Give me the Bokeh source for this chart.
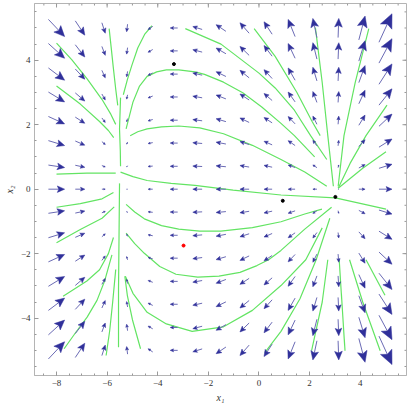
import math
from bokeh.plotting import figure
from bokeh.models import Range1d, LinearAxis, FixedTicker
from bokeh.embed import file_html
from bokeh.resources import INLINE

# ---------------- data ----------------
x_grid = [-8.0, -7.07, -6.14, -5.21, -4.29, -3.36, -2.43, -1.5, -0.57, 0.36, 1.29, 2.21, 3.14, 4.07, 5.0]
y_grid = [5.0, 4.29, 3.57, 2.86, 2.14, 1.43, 0.71, 0.0, -0.71, -1.43, -2.14, -2.86, -3.57, -4.29, -5.0]

# horizontal field component for each column (same on every row)
u_by_column = [28.6, 16.8, 6.0, -1.6, -8.2, -13.2, -16.5, -17.3, -16.2, -14.3, -12.3, -7.2, 1.2, 11.0, 23.0]

# vertical field component, one row per y_grid value (top to bottom), one entry per column
v_field = [
    [-23.8, -19.8, -14.5, -10.5, -4.5, 0.0, 4.0, 9.2, 14.5, 17.2, 23.8, 26.5, 26.5, 33.0, 39.5],
    [-20.4, -17.0, -12.4, -9.0, -3.8, 0.0, 3.4, 7.9, 12.4, 14.8, 20.4, 22.7, 22.7, 28.3, 33.8],
    [-17.0, -14.2, -10.4, -7.5, -3.2, 0.0, 2.9, 6.6, 10.4, 12.3, 17.0, 18.9, 18.9, 23.6, 28.2],
    [-13.6, -11.3, -8.3, -6.0, -2.6, 0.0, 2.3, 5.3, 8.3, 9.8, 13.6, 15.1, 15.1, 18.8, 22.6],
    [-10.2, -8.5, -6.2, -4.5, -1.9, 0.0, 1.7, 4.0, 6.2, 7.4, 10.2, 11.3, 11.3, 14.1, 16.9],
    [-6.8, -5.7, -4.1, -3.0, -1.3, 0.0, 1.1, 2.6, 4.1, 4.9, 6.8, 7.6, 7.6, 9.4, 11.3],
    [-3.4, -2.8, -2.1, -1.5, -0.6, 0.0, 0.6, 1.3, 2.1, 2.5, 3.4, 3.8, 3.8, 4.7, 5.6],
    [0.0, 0.0, 0.0, 0.0, 0.0, 0.0, 0.0, 0.0, 0.0, 0.0, 0.0, 0.0, 0.0, 0.0, 0.0],
    [3.4, 2.8, 2.1, 1.5, 0.6, 0.0, -0.6, -1.3, -2.1, -2.5, -3.4, -3.8, -3.8, -4.7, -5.6],
    [6.8, 5.7, 4.1, 3.0, 1.3, 0.0, -1.1, -2.6, -4.1, -4.9, -6.8, -7.6, -7.6, -9.4, -11.3],
    [10.2, 8.5, 6.2, 4.5, 1.9, 0.0, -1.7, -4.0, -6.2, -7.4, -10.2, -11.3, -11.3, -14.1, -16.9],
    [13.6, 11.3, 8.3, 6.0, 2.6, 0.0, -2.3, -5.3, -8.3, -9.8, -13.6, -15.1, -15.1, -18.8, -22.6],
    [17.0, 14.2, 10.4, 7.5, 3.2, 0.0, -2.9, -6.6, -10.4, -12.3, -17.0, -18.9, -18.9, -23.6, -28.2],
    [20.4, 17.0, 12.4, 9.0, 3.8, 0.0, -3.4, -7.9, -12.4, -14.8, -20.4, -22.7, -22.7, -28.3, -33.8],
    [23.8, 19.8, 14.5, 10.5, 4.5, 0.0, -4.0, -9.2, -14.5, -17.2, -23.8, -26.5, -26.5, -33.0, -39.5],
]

# green stream lines (x, y)
streamlines = [
    [(-8.0, 4.53), (-7.4, 4.02), (-6.79, 3.42), (-6.2, 2.78), (-5.85, 2.32), (-5.66, 2.01)],
    [(-8.0, 3.2), (-7.06, 2.64), (-6.3, 2.1), (-5.95, 1.82), (-5.74, 1.6)],
    [(-5.92, 4.98), (-5.84, 4.4), (-5.76, 3.8), (-5.66, 3.1), (-5.58, 2.6)],
    [(-5.47, 2.84), (-5.51, 1.87), (-5.48, 1.2), (-5.47, 0.71)],
    [(-5.36, 2.93), (-5.2, 3.4), (-5.02, 3.85), (-4.79, 4.38), (-4.52, 4.8), (-4.23, 5.07)],
    [(-5.51, 0.18), (-5.53, -1.5), (-5.55, -3.1), (-5.55, -4.9)],
    [(-8.0, 0.47), (-6.8, 0.5), (-5.66, 0.5)],
    [(-8.0, -0.56), (-7.06, -0.45), (-6.2, -0.3), (-5.75, -0.1)],
    [(-8.0, -1.66), (-7.06, -1.25), (-6.2, -0.9), (-5.72, -0.55)],
    [(-7.74, -3.32), (-6.8, -2.85), (-6.3, -2.5), (-5.95, -2.0), (-5.75, -1.5)],
    [(-7.7, -4.95), (-7.2, -4.4), (-6.79, -3.97), (-6.4, -3.45), (-6.1, -2.85), (-5.81, -2.04)],
    [(-6.04, -5.16), (-5.9, -4.4), (-5.78, -3.5), (-5.66, -2.49)],
    [(-5.3, -2.7), (-5.2, -3.3), (-5.0, -4.05), (-4.68, -4.95)],
    [(-5.25, 1.87), (-4.98, 2.7), (-4.72, 3.2), (-4.42, 3.5), (-4.04, 3.64), (-3.66, 3.7),
     (-3.17, 3.7), (-2.53, 3.64), (-2.15, 3.56), (-1.4, 3.32), (-0.64, 2.99), (0.11, 2.55),
     (0.87, 2.04), (1.4, 1.66), (2.2, 1.0)],
    [(-5.09, 1.66), (-4.79, 1.78), (-4.42, 1.87), (-3.85, 1.93), (-3.17, 1.96), (-2.34, 1.9),
     (-1.4, 1.72), (-0.26, 1.36), (0.87, 0.92), (1.81, 0.53), (2.68, 0.09)],
    [(-5.47, 0.53), (-4.98, 0.39), (-4.42, 0.27), (-3.47, 0.18), (-2.53, 0.12), (-1.02, -0.03),
     (0.87, -0.18), (3.02, -0.27), (5.02, -0.62)],
    [(-5.25, -0.47), (-4.91, -0.71), (-4.53, -0.92), (-3.85, -1.13), (-3.17, -1.24), (-2.34, -1.3),
     (-1.51, -1.3), (-0.26, -1.19), (0.87, -1.01), (1.81, -0.77), (2.49, -0.62)],
    [(-5.25, -1.36), (-4.91, -1.69), (-4.53, -1.99), (-3.92, -2.4), (-3.28, -2.64), (-2.42, -2.73),
     (-1.58, -2.7), (-0.75, -2.58), (-0.08, -2.37), (0.38, -2.19), (0.87, -1.9), (1.81, -1.24), (2.87, -0.56)],
    [(-5.28, -2.7), (-4.98, -3.23), (-4.42, -3.82), (-3.66, -4.18), (-2.64, -4.41), (-1.4, -4.27),
     (-0.26, -3.76), (0.87, -2.99), (1.85, -2.19), (2.5, -1.2)],
    [(0.23, -5.07), (0.87, -4.41), (1.62, -3.4), (2.26, -2.19), (2.8, -0.9)],
    [(2.72, -2.19), (2.5, -3.5), (2.08, -5.01)],
    [(3.17, -2.19), (3.4, -5.01)],
    [(3.58, -2.19), (4.1, -3.5), (4.79, -5.01)],
    [(4.23, -2.19), (4.98, -3.29)],
    [(-0.19, 4.98), (0.64, 4.12), (1.5, 3.0), (2.1, 2.1), (2.42, 1.66)],
    [(-2.91, 4.98), (-1.5, 4.5), (0.0, 3.6), (0.64, 3.14), (1.4, 2.45), (2.04, 1.66), (2.68, 0.92)],
    [(2.23, 5.01), (2.5, 3.3), (2.72, 1.66), (2.94, 0.09)],
    [(4.34, 4.98), (3.8, 3.3), (3.36, 1.66), (3.13, 0.09)],
    [(5.06, 2.61), (4.23, 1.66), (3.6, 0.8), (3.13, 0.03)],
    [(3.13, 0.03), (4.1, 0.65), (5.02, 1.16)],
]

black_points_x = [3.02, 0.94, -3.36]
black_points_y = [-0.24, -0.36, 3.88]
red_points_x = [-2.98]
red_points_y = [-1.75]

x_ticks = [-8, -6, -4, -2, 0, 2, 4]
y_ticks = [-4, -2, 0, 2, 4]
x_minor = [i * 0.5 for i in range(-17, 12)]
y_minor = [i * 0.5 for i in range(-11, 12)]

# ---------------- figure ----------------
X0, X1 = -8.87, 5.83
Y0, Y1 = -5.78, 5.76
FW, FH = 372, 372

p = figure(frame_width=FW, frame_height=FH, output_backend="svg", toolbar_location=None,
           x_range=Range1d(X0, X1), y_range=Range1d(Y0, Y1),
           x_axis_location=None, y_axis_location=None,
           min_border_left=0, min_border_right=3, min_border_top=3, min_border_bottom=0)
p.xgrid.visible = False
p.ygrid.visible = False
p.outline_line_color = "#b4b4b4"
p.background_fill_color = "white"

def minus(v):
    return ("\u2212" + str(abs(v))) if v < 0 else str(v)

def style(ax):
    ax.axis_line_color = "#b4b4b4"
    ax.major_tick_line_color = "#999999"
    ax.minor_tick_line_color = "#999999"
    ax.major_tick_in = 4
    ax.major_tick_out = 0
    ax.minor_tick_in = 2
    ax.minor_tick_out = 0
    ax.major_label_text_font = "Liberation Serif"
    ax.major_label_text_font_size = "9px"
    ax.major_label_text_color = "#333333"
    ax.major_label_standoff = 4
    ax.axis_label_text_font = "Liberation Serif"
    ax.axis_label_text_font_size = "10px"
    ax.axis_label_text_font_style = "italic"
    ax.axis_label_text_color = "#333333"
    ax.axis_label_standoff = 3

bx = LinearAxis(ticker=FixedTicker(ticks=x_ticks, minor_ticks=x_minor), axis_label="x\u2081",
                major_label_overrides={t: minus(t) for t in x_ticks})
style(bx)
ly = LinearAxis(ticker=FixedTicker(ticks=y_ticks, minor_ticks=y_minor), axis_label="x\u2082",
                major_label_overrides={t: minus(t) for t in y_ticks})
style(ly)
ly.major_label_orientation = "horizontal"
p.add_layout(bx, "below")
p.add_layout(ly, "left")

kx = FW / (X1 - X0)   # px per data unit
ky = FH / (Y1 - Y0)

# tick marks on the top and right sides of the frame
tick_col = "#999999"
p.segment(x_ticks, [Y1] * len(x_ticks), x_ticks, [Y1 - 4 / ky] * len(x_ticks), line_color=tick_col, line_width=1)
p.segment(x_minor, [Y1] * len(x_minor), x_minor, [Y1 - 2 / ky] * len(x_minor), line_color=tick_col, line_width=1)
p.segment([X1] * len(y_ticks), y_ticks, [X1 - 4 / kx] * len(y_ticks), y_ticks, line_color=tick_col, line_width=1)
p.segment([X1] * len(y_minor), y_minor, [X1 - 2 / kx] * len(y_minor), y_minor, line_color=tick_col, line_width=1)

# ---------------- arrows ----------------
A = 0.0224            # data units per field unit (arrow scale)

sx0, sy0, sx1, sy1 = [], [], [], []
hx, hy = [], []
for r, yv in enumerate(y_grid):
    for c, xv in enumerate(x_grid):
        u = u_by_column[c]
        v = v_field[r][c]
        dxp = A * u * kx
        dyp = A * v * ky
        L = math.hypot(dxp, dyp)
        if L < 0.6:
            continue
        ex, ey = dxp / L, dyp / L
        cxp, cyp = xv * kx, yv * ky
        tailx, taily = cxp - dxp / 2, cyp - dyp / 2
        tipx, tipy = cxp + dxp / 2, cyp + dyp / 2
        hl = 0.45 * L
        hw = 0.2 * L
        bxp, byp = tipx - ex * hl, tipy - ey * hl
        nx, ny = -ey, ex
        notchx, notchy = tipx - ex * hl * 0.8, tipy - ey * hl * 0.8
        sx0.append(tailx / kx); sy0.append(taily / ky)
        sx1.append(notchx / kx); sy1.append(notchy / ky)
        hx.append([tipx / kx, (bxp + nx * hw) / kx, notchx / kx, (bxp - nx * hw) / kx])
        hy.append([tipy / ky, (byp + ny * hw) / ky, notchy / ky, (byp - ny * hw) / ky])

# ---------------- stream lines ----------------
for line in streamlines:
    p.line([pt[0] for pt in line], [pt[1] for pt in line], line_color="#63e463", line_width=1.2,
           line_join="round")

p.segment(sx0, sy0, sx1, sy1, line_color="#6b6bb5", line_width=1)
p.patches(hx, hy, fill_color="#30309a", line_color="#30309a", line_width=0.5)

p.scatter(black_points_x, black_points_y, size=3, color="black")
p.scatter(red_points_x, red_points_y, size=3, color="red")

open("out.html", "w").write(file_html(p, INLINE))
